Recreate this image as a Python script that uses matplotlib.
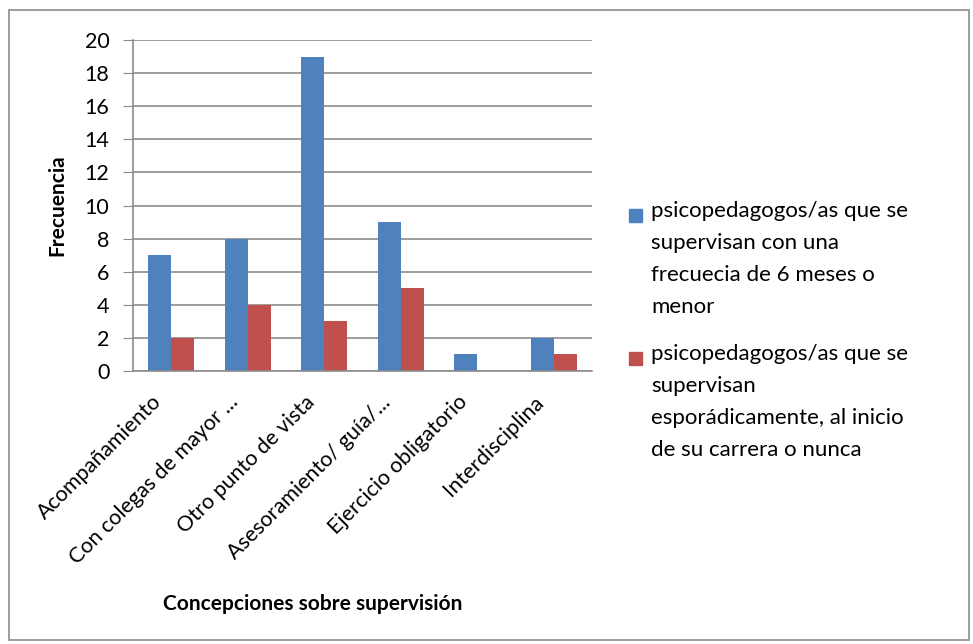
import numpy as np
import matplotlib.pyplot as plt
from matplotlib.patches import Rectangle
from matplotlib.transforms import ScaledTranslation

categories = ['Acompañamiento', 'Con colegas de mayor ...', 'Otro punto de vista',
              'Asesoramiento/ guía/...', 'Ejercicio obligatorio', 'Interdisciplina']
frecuentes = [7, 8, 19, 9, 1, 2]
esporadicos = [2, 4, 3, 5, 0, 1]
series_labels = ['psicopedagogos/as que se\nsupervisan con una\nfrecuecia de 6 meses o\nmenor',
                 'psicopedagogos/as que se\nsupervisan\nesporádicamente, al inicio\nde su carrera o nunca']
colors = ['#4f81bd', '#c0504d']

plt.rcParams['font.family'] = ['Lato', 'DejaVu Sans']

fig = plt.figure(figsize=(9.73, 6.44), dpi=100)
fig.patches.append(Rectangle((9 / 973, 4 / 644), 960 / 973, 630 / 644, transform=fig.transFigure,
                             fill=False, edgecolor='#8c8c8c', linewidth=1.2))
ax = fig.add_axes([133 / 973, 1 - 371 / 644, 459 / 973, 331 / 644])

x = np.arange(len(categories))
w = 0.3
ax.bar(x - w / 2, frecuentes, w, color=colors[0])
ax.bar(x + w / 2, esporadicos, w, color=colors[1])

ax.set_xlim(-0.5, len(categories) - 0.5)
ax.set_ylim(0, 20)
ax.set_yticks(range(0, 21, 2))
ax.yaxis.grid(True, color='#8c8c8c', linewidth=1.2)
ax.set_axisbelow(True)
for s in ['top', 'right']:
    ax.spines[s].set_visible(False)
for s in ['left', 'bottom']:
    ax.spines[s].set_color('#8c8c8c')
    ax.spines[s].set_linewidth(1.2)
ax.tick_params(axis='y', length=7, color='#8c8c8c', labelsize=15.5, pad=10)
ax.tick_params(axis='x', length=0, labelsize=15.5, pad=15)
ax.set_xticks(x)
ax.set_xticklabels(categories, rotation=45, ha='right', rotation_mode='anchor')
off = ScaledTranslation(-20 / 100, 0, fig.dpi_scale_trans)
for lab in ax.get_xticklabels():
    lab.set_transform(lab.get_transform() + off)

ax.set_ylabel('Frecuencia', fontsize=15, fontweight='bold', labelpad=12)
fig.text(313 / 973, 1 - 604 / 644, 'Concepciones sobre supervisión', fontsize=15,
         fontweight='bold', ha='center', va='center')

# legend drawn by hand so the squares sit on the first text line
legend_tops = [201, 344]
for lab, col, top in zip(series_labels, colors, legend_tops):
    fig.patches.append(Rectangle((629 / 973, 1 - (top + 21) / 644), 13 / 973, 13 / 644,
                                 transform=fig.transFigure, color=col))
    fig.text(651 / 973, 1 - top / 644, lab, fontsize=16, va='top', ha='left',
             linespacing=1.75)

fig.savefig('out.png', dpi=100)
